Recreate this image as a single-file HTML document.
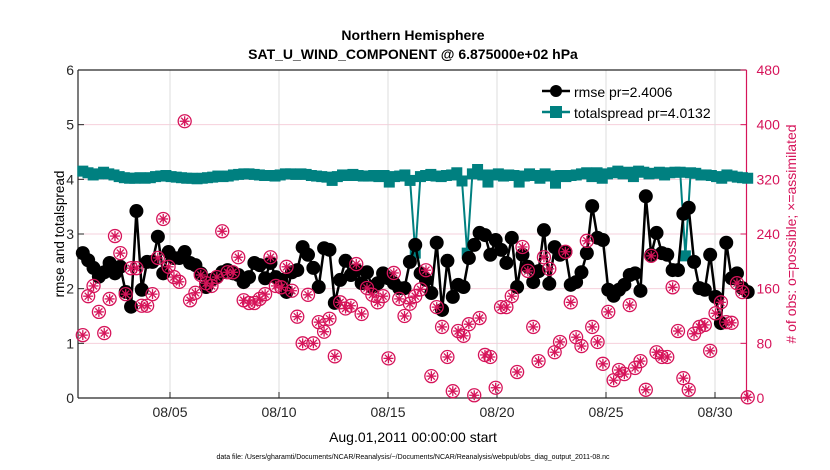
<!DOCTYPE html>
<html><head><meta charset="utf-8"><style>
body{margin:0;background:#fff;}
svg{display:block;font-family:"Liberation Sans",Arial,sans-serif;}
</style></head><body>
<svg id="chart" width="830" height="470">
<rect width="830" height="470" fill="#fff"/>
<text x="413" y="40" text-anchor="middle" font-size="14" font-weight="bold">Northern Hemisphere</text>
<text x="413" y="59" text-anchor="middle" font-size="14" font-weight="bold">SAT_U_WIND_COMPONENT @ 6.875000e+02 hPa</text>
<g id="grid"></g>
<g id="axes"></g>
<g id="marks"></g>
<g>
 <g>
  <line x1="542" y1="91" x2="570" y2="91" stroke="#000" stroke-width="2.5"/>
  <circle cx="556" cy="91" r="6" fill="#000"/>
  <text x="574" y="97" font-size="14">rmse pr=2.4006</text>
 </g>
 <g>
  <line x1="542" y1="112" x2="570" y2="112" stroke="#008080" stroke-width="2.5"/>
  <rect x="550" y="106" width="12" height="12" fill="#008080"/>
  <text x="574" y="118" font-size="14">totalspread pr=4.0132</text>
 </g>
</g>
<text x="413" y="442" text-anchor="middle" font-size="14">Aug.01,2011 00:00:00 start</text>
<text x="413" y="459" text-anchor="middle" font-size="7">data file: /Users/gharamti/Documents/NCAR/Reanalysis/~/Documents/NCAR/Reanalysis/webpub/obs_diag_output_2011-08.nc</text>
<text transform="translate(64,234) rotate(-90)" text-anchor="middle" font-size="13.5">rmse and totalspread</text>
<text transform="translate(796,234) rotate(-90)" text-anchor="middle" font-size="14" fill="#d6145a"># of obs: o=possible; ×=assimilated</text>
</svg>
<script>
const xTickLabels=["08/05","08/10","08/15","08/20","08/25","08/30"];
const xTickDays=[4,9,14,19,24,29];
const leftTicks=[0,1,2,3,4,5,6];
const rightTicks=[0,80,160,240,320,400,480];
const rmse=[2.65,2.52,2.38,2.22,2.3,2.47,2.28,2.4,1.94,1.67,3.42,1.98,2.49,2.49,2.95,2.28,2.67,2.56,2.56,2.67,2.47,2.43,2.28,2.03,2.16,2.21,2.3,2.34,2.28,2.25,2.12,2.21,2.47,2.43,2.19,2.47,2.21,2.16,1.94,2.3,2.34,2.76,
2.62,2.38,2.03,2.74,2.71,1.74,2.16,2.51,2.25,2.34,2.1,2.3,2.03,2.1,2.28,2.19,2.1,2.01,2.01,2.49,2.8,2.28,2.16,1.92,2.84,1.61,2.51,1.85,2.07,2.03,2.56,2.8,3.02,2.98,2.62,2.89,2.71,2.47,2.93,2.03,
2.62,2.4,2.12,2.32,3.07,2.09,2.76,2.62,2.67,2.07,2.12,2.3,2.65,3.51,2.93,2.89,1.98,1.87,1.98,2.07,2.25,2.28,1.96,3.69,2.62,3.02,2.65,2.62,2.34,2.34,3.37,3.48,2.49,2.01,1.98,2.62,1.85,1.37,2.84,2.19,2.28,2.01,1.94];
const spread=[4.15,4.12,4.08,4.1,4.13,4.1,4.08,4.05,4.03,4.02,4.02,4.03,4.02,4.03,4.05,4.06,4.07,4.05,4.04,4.03,4.02,4.02,4.01,4.02,4.03,4.04,4.06,4.05,4.06,4.08,4.09,4.1,4.1,4.09,4.08,4.07,4.07,4.06,4.08,4.1,4.1,4.09,
4.1,4.09,4.07,4.06,4.05,4.04,3.98,4.05,4.08,4.07,4.09,4.07,4.06,4.06,4.07,4.05,4.07,3.95,4.05,4.06,4.08,3.98,2.65,4.05,4.07,4.09,4.06,4.05,4.07,4.08,4.12,3.97,2.65,4.1,4.18,4.08,3.95,4.08,4.1,4.06,
4.08,4.07,3.95,4.06,4.1,4.07,4.02,4.1,4.06,3.93,4.07,4.05,4.07,4.08,4.1,4.12,4.05,4.12,4.02,4.1,4.12,4.15,4.1,4.13,4.05,4.15,4.13,4.1,4.11,4.13,4.08,4.12,4.13,4.13,2.6,4.12,4.11,4.08,4.08,4.07,4.05,4.02,4.08,4.06,4.04,4.03,4.02];
const obs=[92,149,164,126,95,145,237,212,152,190,190,135,135,152,205,262,192,177,170,405,143,154,180,168,164,177,244,184,184,206,143,139,139,145,152,206,164,162,192,157,
119,80,151,80,111,97,116,61,140,131,135,196,123,161,151,140,149,58,183,145,120,138,149,159,187,32,133,104,60,10,98,91,108,4,117,63,60,15,133,133,149,
38,221,186,104,54,206,189,67,82,214,140,89,76,230,104,82,50,126,26,41,35,136,44,54,12,208,67,60,60,162,98,29,12,94,104,107,69,124,140,111,110,168,155,1];

const NS='http://www.w3.org/2000/svg';
const X0=82.8,PXD=21.8,YB=398,YT=70,XL=78,XR=746.5;
const xs=d=>X0+d*PXD;
const yL=v=>YB-v*(YB-YT)/6;
const yR=v=>YB-v*(YB-YT)/480;
const tOf=(i,n)=>i*30.5/(n-1);
function mk(tag,attrs,parent){const e=document.createElementNS(NS,tag);for(const k in attrs)e.setAttribute(k,attrs[k]);parent.appendChild(e);return e;}
const grid=document.getElementById('grid'),axes=document.getElementById('axes'),marks=document.getElementById('marks');
const PINK='#d6145a';
rightTicks.forEach(v=>{const l=mk('line',{x1:XL,x2:XR,y1:yR(v),y2:yR(v),stroke:'#f6d0dc','stroke-width':1},grid);

});
xTickDays.forEach(d=>{const l=mk('line',{x1:xs(d),x2:xs(d),y1:YT,y2:YB,stroke:'#dcdcdc','stroke-width':1},grid);

});
mk('line',{x1:XL,x2:XR,y1:YB,y2:YB,stroke:'#262626','stroke-width':1.2},axes);
mk('line',{x1:XL,x2:XR,y1:YT,y2:YT,stroke:'#262626','stroke-width':1.2},axes);
mk('line',{x1:XL,x2:XL,y1:YT,y2:YB,stroke:'#262626','stroke-width':1.2},axes);
mk('line',{x1:XR,x2:XR,y1:YT,y2:YB,stroke:PINK,'stroke-width':1.2},axes);
leftTicks.forEach(v=>{mk('line',{x1:XL,x2:XL+6,y1:yL(v),y2:yL(v),stroke:'#262626'},axes);
const t=mk('text',{x:XL-4,y:yL(v)+5,'text-anchor':'end','font-size':14,fill:'#262626'},axes);t.textContent=v;

});
rightTicks.forEach(v=>{mk('line',{x1:XR-6,x2:XR,y1:yR(v),y2:yR(v),stroke:PINK},axes);
const t=mk('text',{x:XR+10,y:yR(v)+5,'font-size':14,fill:PINK},axes);t.textContent=v;

});
xTickDays.forEach((d,i)=>{mk('line',{x1:xs(d),x2:xs(d),y1:YB,y2:YB-6,stroke:'#262626'},axes);
const t=mk('text',{x:xs(d),y:YB+19,'text-anchor':'middle','font-size':14,fill:'#262626'},axes);t.textContent=xTickLabels[i];

});
let p=spread.map((v,i)=>xs(tOf(i,spread.length)).toFixed(1)+','+yL(v).toFixed(1)).join(' ');
const sl=mk('polyline',{points:p,fill:'none',stroke:'#008080','stroke-width':2},marks);


spread.forEach((v,i)=>{const r=mk('rect',{x:xs(tOf(i,spread.length))-5.5,y:yL(v)-5.5,width:11,height:11,fill:'#008080'},marks);

});
p=rmse.map((v,i)=>xs(tOf(i,rmse.length)).toFixed(1)+','+yL(v).toFixed(1)).join(' ');
const rl=mk('polyline',{points:p,fill:'none',stroke:'#000','stroke-width':2.5},marks);


rmse.forEach((v,i)=>{const c=mk('circle',{cx:xs(tOf(i,rmse.length)),cy:yL(v),r:7,fill:'#000'},marks);

});
obs.forEach((v,i)=>{const cx=xs(tOf(i,obs.length)),cy=yR(v);
const g=mk('g',{stroke:PINK,'stroke-width':1.3,fill:'none'},marks);


mk('circle',{cx:cx,cy:cy,r:6.5},g);
for(let k=0;k<4;k++){const a=k*Math.PI/4;mk('line',{x1:cx-5*Math.cos(a),y1:cy-5*Math.sin(a),x2:cx+5*Math.cos(a),y2:cy+5*Math.sin(a)},g);}
});
</script>
</body></html>
